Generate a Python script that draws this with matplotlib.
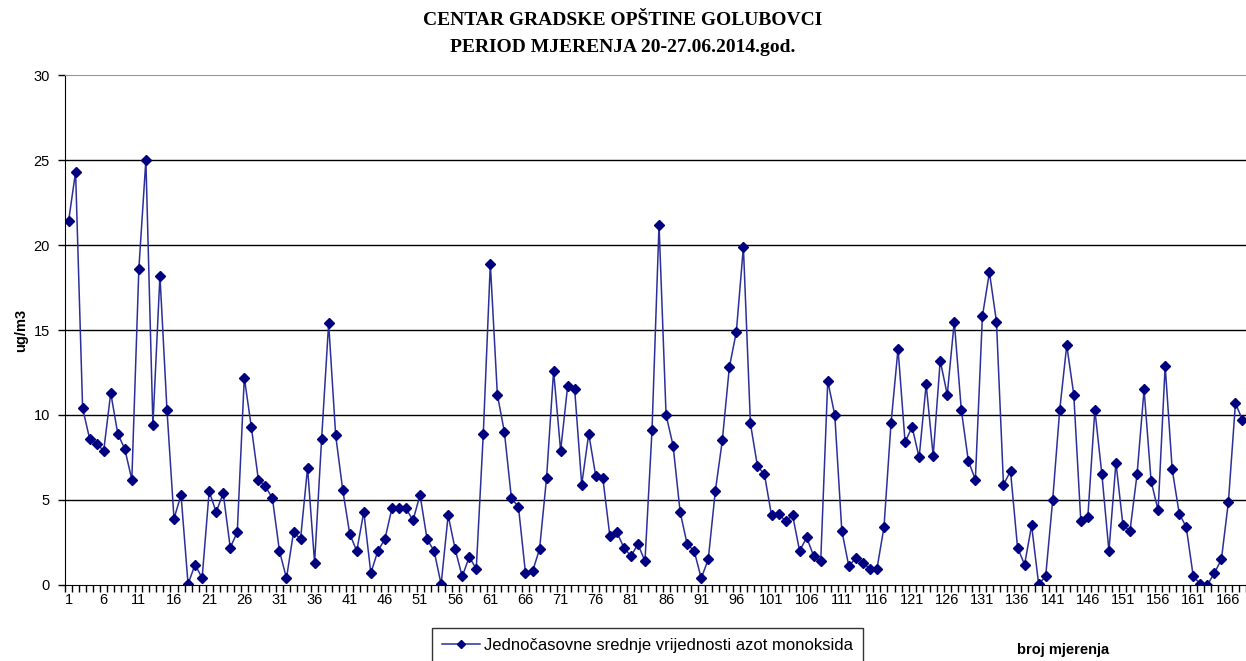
import numpy as np
import matplotlib
matplotlib.use('Agg')
from matplotlib import pyplot as plt

# jednocasovne srednje vrijednosti NO, 168 mjerenja
no_vals = [21.4, 24.3, 10.4, 8.6, 8.3, 7.9, 11.3, 8.9, 8.0, 6.2,
           18.6, 25.0, 9.4, 18.2, 10.3, 3.9, 5.3, 0.06, 1.2, 0.4,
           5.5, 4.3, 5.4, 2.2, 3.1, 12.2, 9.3, 6.2, 5.8, 5.1,
           2.0, 0.4, 3.1, 2.7, 6.9, 1.3, 8.6, 15.4, 8.8, 5.6,
           3.0, 2.0, 4.3, 0.7, 2.0, 2.7, 4.5, 4.5, 4.5, 3.8,
           5.3, 2.7, 2.0, 0.04, 4.1, 2.1, 0.5, 1.65, 0.95, 8.9,
           18.9, 11.2, 9.0, 5.1, 4.6, 0.7, 0.8, 2.1, 6.3, 12.6,
           7.9, 11.7, 11.5, 5.9, 8.9, 6.4, 6.3, 2.9, 3.1, 2.2,
           1.7, 2.4, 1.4, 9.1, 21.2, 10.0, 8.2, 4.3, 2.4, 2.0,
           0.4, 1.5, 5.5, 8.5, 12.8, 14.9, 19.9, 9.5, 7.0, 6.5,
           4.1, 4.2, 3.75, 4.1, 2.0, 2.8, 1.7, 1.4, 12.0, 10.0,
           3.2, 1.1, 1.6, 1.3, 0.95, 0.95, 3.4, 9.5, 13.9, 8.4,
           9.3, 7.5, 11.8, 7.6, 13.2, 11.2, 15.5, 10.3, 7.3, 6.2,
           15.8, 18.4, 15.5, 5.9, 6.7, 2.2, 1.2, 3.5, 0.06, 0.5,
           5.0, 10.3, 14.1, 11.2, 3.75, 4.0, 10.3, 6.5, 2.0, 7.2,
           3.5, 3.2, 6.5, 11.5, 6.1, 4.4, 12.9, 6.8, 4.2, 3.4,
           0.5, 0.06, 0.0, 0.7, 1.5, 4.9, 10.7, 9.7]
broj = np.arange(1, len(no_vals) + 1)
x_labels = list(range(1, 167, 5))
y_ticks = [0, 5, 10, 15, 20, 25, 30]

fig = plt.figure(figsize=(12.46, 6.61), dpi=100)
ax = fig.add_axes([0.0522, 0.115, 0.9478, 0.7715])

ln, = ax.plot(broj, no_vals, color='#2b2f9a', lw=1.1, marker='D', ms=5,
              mfc='#000080', mec='#000080')

ax.set_xlim(0.5, 168.5)
ax.set_ylim(0, 30)
ax.set_yticks(y_ticks)
ax.set_xticks(x_labels)
ax.set_xticks(np.arange(0.5, 169, 1), minor=True)
ax.tick_params(axis='x', which='major', length=0, pad=6)
ax.tick_params(axis='x', which='minor', length=5, width=1, color='black', direction='out')
ax.tick_params(axis='y', length=5, width=1, direction='out', pad=6)
for lab in ax.get_xticklabels() + ax.get_yticklabels():
    lab.set_family('Liberation Sans')
    lab.set_fontsize(10.5)

for yv in y_ticks[1:-1]:
    ax.axhline(yv, color='black', lw=1, zorder=0)
ax.spines['top'].set_color('#999999')
ax.spines['right'].set_visible(False)
ax.spines['left'].set_color('black')
ax.spines['bottom'].set_color('black')

ax.set_ylabel('ug/m3', family='Liberation Sans', fontweight='bold', fontsize=10.5, labelpad=4)

fig.text(0.5, 0.969, 'CENTAR GRADSKE OPŠTINE GOLUBOVCI', ha='center', va='center',
         family='Liberation Serif', fontsize=14, fontweight='bold')
fig.text(0.5, 0.928, 'PERIOD MJERENJA 20-27.06.2014.god.', ha='center', va='center',
         family='Liberation Serif', fontsize=14, fontweight='bold')

leg = fig.legend([ln], ['Jednočasovne srednje vrijednosti azot monoksida'],
                 loc='upper left', bbox_to_anchor=(0.3467, 0.05), borderaxespad=0,
                 frameon=True, fancybox=False, edgecolor='black',
                 handlelength=2.3, handletextpad=0.2, borderpad=0.6, markerscale=0.8,
                 prop={'family': 'Liberation Sans', 'size': 12})
leg.get_frame().set_linewidth(1)

fig.text(0.853, 0.016, 'broj mjerenja', ha='center', va='center',
         family='Liberation Sans', fontweight='bold', fontsize=10.5)

fig.savefig('out.png', dpi=100)
